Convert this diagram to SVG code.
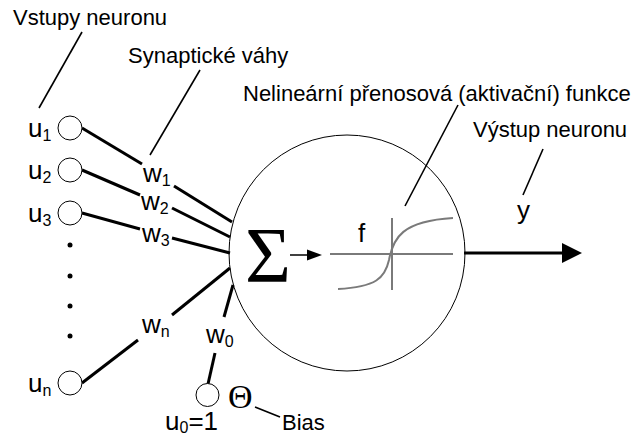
<svg xmlns="http://www.w3.org/2000/svg" width="632" height="437" viewBox="0 0 632 437">
<defs>
<style>
.lbl{font-family:"Liberation Sans",Arial,sans-serif;font-size:22px;fill:#000}
.var{font-family:"Liberation Sans",Arial,sans-serif;font-size:26px;fill:#000}
.sub{font-size:16px}
.lead{stroke:#000;stroke-width:1.6;fill:none}
.wire{stroke:#000;stroke-width:3;fill:none}
.node{fill:#fff;stroke:#000;stroke-width:1}
.grey{stroke:#7a7a7a;stroke-width:2;fill:none}
</style>
<filter id="soft" x="-10%" y="-10%" width="120%" height="120%"><feGaussianBlur stdDeviation="0.5"/></filter>
</defs>
<rect width="632" height="437" fill="#fff"/>

<g id="connectors">
<line class="lead" x1="82" y1="32" x2="39" y2="108"/>
<line class="lead" x1="200" y1="70" x2="150" y2="155"/>
<line class="lead" x1="458" y1="105" x2="405" y2="206"/>
<line class="lead" x1="543" y1="149" x2="523" y2="195"/>
<line class="lead" x1="255" y1="407" x2="280" y2="417"/>
<line class="wire" x1="82" y1="128" x2="142" y2="164"/>
<line class="wire" x1="174" y1="186" x2="232" y2="222"/>
<line class="wire" x1="82" y1="170" x2="140" y2="195"/>
<line class="wire" x1="172" y1="208" x2="230" y2="237"/>
<line class="wire" x1="82" y1="213" x2="140" y2="229"/>
<line class="wire" x1="172" y1="238" x2="230" y2="253"/>
<line class="wire" x1="82" y1="383" x2="138" y2="340"/>
<line class="wire" x1="172" y1="315" x2="230" y2="268"/>
<line class="wire" x1="208" y1="384" x2="215" y2="353"/>
<line class="wire" x1="224" y1="317" x2="233" y2="285"/>
<line x1="290" y1="255" x2="309" y2="255" stroke="#000" stroke-width="1.5"/>
<polygon points="307,249.5 322,255 307,260.5" fill="#000"/>
<line x1="464" y1="253" x2="566" y2="253" stroke="#000" stroke-width="3"/>
<polygon points="562,243 582,253 562,263" fill="#000"/>
</g>

<g id="neuron">
<circle cx="347" cy="253" r="118" fill="none" stroke="#000" stroke-width="1"/>
<text x="245" y="281" font-family="'Liberation Serif','Times New Roman',serif" font-size="79">Σ</text>
<g filter="url(#soft)">
<line class="grey" x1="330" y1="254" x2="453" y2="254"/>
<line class="grey" x1="392" y1="218" x2="392" y2="290"/>
<path class="grey" d="M338,289 C376,287 385,278 389,260 C393,238 402,221 453,218"/>
</g>
<text class="var" x="358" y="242" font-size="30">f</text>
</g>

<g id="input-u1"><circle class="node" cx="70" cy="128" r="12"/><text class="var" x="28" y="137">u<tspan class="sub" dy="4">1</tspan></text></g>
<g id="input-u2"><circle class="node" cx="70" cy="170" r="12"/><text class="var" x="28" y="179">u<tspan class="sub" dy="4">2</tspan></text></g>
<g id="input-u3"><circle class="node" cx="70" cy="213" r="12"/><text class="var" x="28" y="222">u<tspan class="sub" dy="4">3</tspan></text></g>
<g id="dots" fill="#000">
<circle cx="70" cy="245" r="2.5"/><circle cx="70" cy="276" r="2.5"/><circle cx="70" cy="306" r="2.5"/><circle cx="70" cy="336" r="2.5"/>
</g>
<g id="input-un"><circle class="node" cx="70" cy="383" r="12"/><text class="var" x="28" y="392">u<tspan class="sub" dy="4">n</tspan></text></g>
<g id="input-u0"><circle class="node" cx="207.5" cy="395" r="11.5"/><text class="var" x="165" y="430" font-size="24">u<tspan class="sub" dy="3" font-size="15">0</tspan><tspan dy="-3">=1</tspan></text></g>

<g id="weights">
<text class="var" x="143" y="182">w<tspan class="sub" dy="4">1</tspan></text>
<text class="var" x="141" y="210">w<tspan class="sub" dy="4">2</tspan></text>
<text class="var" x="142" y="242">w<tspan class="sub" dy="4">3</tspan></text>
<text class="var" x="142" y="333">w<tspan class="sub" dy="4">n</tspan></text>
<text class="var" x="206" y="343">w<tspan class="sub" dy="4">0</tspan></text>
</g>

<g id="output-y"><text class="var" x="517" y="219">y</text></g>
<g id="theta"><text x="228" y="408" font-family="'Liberation Serif','Times New Roman',serif" font-size="34">Θ</text></g>

<g id="labels">
<text class="lbl" x="13" y="25">Vstupy neuronu</text>
<text class="lbl" x="128" y="63">Synaptické váhy</text>
<text class="lbl" x="243" y="101" font-size="21.6">Nelineární přenosová (aktivační) funkce</text>
<text class="lbl" x="473" y="137">Výstup neuronu</text>
<text class="lbl" x="282" y="430" font-size="20">Bias</text>
</g>
</svg>
